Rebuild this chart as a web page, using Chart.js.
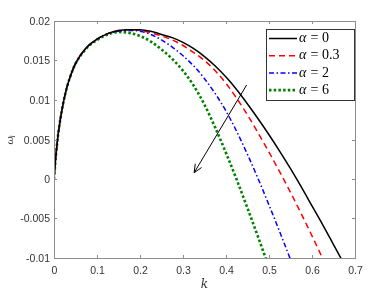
<!DOCTYPE html>
<html lang="en">
<head>
    <meta charset="UTF-8">
    <title>Growth rate vs wavenumber</title>
    <script src="https://cdn.jsdelivr.net/npm/chart.js"></script>
    <style>
        html, body { margin: 0; padding: 0; background: #ffffff; }
        #wrap { position: relative; width: 392px; height: 294px; }
    </style>
</head>
<body>
    <div id="wrap"><canvas id="growthChart" width="392" height="294"></canvas></div>

    <script>
        // --- DATA ---
        const kValues = [0, 0.005, 0.01, 0.02, 0.03, 0.04, 0.05, 0.075, 0.1, 0.125, 0.15, 0.175,
                         0.2, 0.225, 0.25, 0.275, 0.3, 0.325, 0.35, 0.375, 0.4, 0.425, 0.45,
                         0.475, 0.5, 0.525, 0.55, 0.575, 0.6, 0.625, 0.65, 0.675];

        const omegaAlpha0 = [0, 0.0033, 0.0058, 0.0092, 0.0116, 0.0133, 0.0146, 0.0166, 0.0177, 0.0184, 0.0188, 0.0189,
                             0.0189, 0.0187, 0.0183, 0.0179, 0.0173, 0.0165, 0.0155, 0.0143, 0.0129, 0.0113, 0.0095,
                             0.0076, 0.0056, 0.0035, 0.0013, -0.0010, -0.0034, -0.0058, -0.0083, -0.0108];
        const omegaAlpha03 = [0, 0.0033, 0.0058, 0.0092, 0.0116, 0.0133, 0.0146, 0.0166, 0.0177, 0.0184, 0.0188, 0.0189,
                              0.0188, 0.0185, 0.0181, 0.0176, 0.0169, 0.0160, 0.0150, 0.0137, 0.0121, 0.0102, 0.0081,
                              0.0058, 0.0034, 0.0009, -0.0017, -0.0044, -0.0072, -0.0101, -0.0131, null];
        const omegaAlpha2 = [0, 0.0033, 0.0058, 0.0092, 0.0116, 0.0133, 0.0146, 0.0166, 0.0177, 0.0184, 0.0187, 0.0188,
                             0.0187, 0.0183, 0.0176, 0.0167, 0.0156, 0.0143, 0.0127, 0.0108, 0.0086, 0.0060, 0.0031,
                             0.0000, -0.0033, -0.0067, -0.0102, -0.0138, null, null, null, null];
        const omegaAlpha6 = [0, 0.0033, 0.0058, 0.0092, 0.0116, 0.0133, 0.0146, 0.0165, 0.0176, 0.0183, 0.0186, 0.0185,
                             0.0181, 0.0174, 0.0164, 0.0152, 0.0137, 0.0118, 0.0094, 0.0065, 0.0033, -0.0001, -0.0037,
                             -0.0074, -0.0112, null, null, null, null, null, null, null];

        const seriesLabels = ['0', '0.3', '2', '6'];
        const xTicks = [0, 0.1, 0.2, 0.3, 0.4, 0.5, 0.6, 0.7];
        const yTicks = [-0.01, -0.005, 0, 0.005, 0.01, 0.015, 0.02];

        // arrow showing increasing alpha, in data units
        const arrowFrom = { k: 0.448, w: 0.0119 };
        const arrowTo = { k: 0.326, w: 0.0008 };

        // --- STYLES ---
        const axisColor = '#8c8c8c';
        const textColor = '#333333';
        const tickFont = '10.5px "Liberation Sans", Arial, sans-serif';

        const lineStyles = [
            { color: '#000000', width: 1.5, dash: [] },
            { color: '#ff0000', width: 1.5, dash: [6, 4] },
            { color: '#0000ff', width: 1.5, dash: [5, 2.5, 1.5, 2.5] },
            { color: '#008000', width: 2.6, dash: [2.5, 2.2] }
        ];

        const allSeries = [omegaAlpha0, omegaAlpha03, omegaAlpha2, omegaAlpha6];

        const datasets = allSeries.map((values, i) => ({
            label: 'α = ' + seriesLabels[i],
            data: kValues.map((k, j) => ({ x: k, y: values[j] })).filter(p => p.y !== null),
            borderColor: lineStyles[i].color,
            borderWidth: lineStyles[i].width,
            borderDash: lineStyles[i].dash,
            pointRadius: 0,
            fill: false,
            cubicInterpolationMode: 'monotone',
            borderCapStyle: 'butt'
        }));

        // draws box, inward ticks, tick labels, axis titles, arrow and legend
        const matlabLook = {
            id: 'matlabLook',
            afterDatasetsDraw(chart) {
                const { ctx, chartArea: a, scales } = chart;
                const xs = scales.x, ys = scales.y;
                ctx.save();

                // arrow
                const x1 = xs.getPixelForValue(arrowFrom.k), y1 = ys.getPixelForValue(arrowFrom.w);
                const x2 = xs.getPixelForValue(arrowTo.k), y2 = ys.getPixelForValue(arrowTo.w);
                ctx.strokeStyle = '#000';
                ctx.lineWidth = 1;
                ctx.setLineDash([]);
                ctx.beginPath();
                ctx.moveTo(x1, y1);
                ctx.lineTo(x2, y2);
                ctx.stroke();
                const ang = Math.atan2(y2 - y1, x2 - x1);
                const hl = 9, hw = 0.42;
                ctx.beginPath();
                ctx.moveTo(x2 - hl * Math.cos(ang - hw), y2 - hl * Math.sin(ang - hw));
                ctx.lineTo(x2, y2);
                ctx.lineTo(x2 - hl * Math.cos(ang + hw), y2 - hl * Math.sin(ang + hw));
                ctx.stroke();

                // box
                ctx.strokeStyle = axisColor;
                ctx.lineWidth = 1;
                ctx.strokeRect(Math.round(a.left) + 0.5, Math.round(a.top) + 0.5,
                    Math.round(a.right - a.left), Math.round(a.bottom - a.top));

                // ticks + labels
                ctx.fillStyle = textColor;
                ctx.font = tickFont;
                ctx.textAlign = 'center';
                ctx.textBaseline = 'top';
                xTicks.forEach(t => {
                    const px = Math.round(xs.getPixelForValue(t)) + 0.5;
                    ctx.beginPath();
                    ctx.moveTo(px, a.bottom); ctx.lineTo(px, a.bottom - 3);
                    ctx.moveTo(px, a.top); ctx.lineTo(px, a.top + 3);
                    ctx.stroke();
                    ctx.fillText(String(t), px, a.bottom + 8);
                });
                ctx.textAlign = 'right';
                ctx.textBaseline = 'middle';
                yTicks.forEach(t => {
                    const py = Math.round(ys.getPixelForValue(t)) + 0.5;
                    ctx.beginPath();
                    ctx.moveTo(a.left, py); ctx.lineTo(a.left + 3, py);
                    ctx.moveTo(a.right, py); ctx.lineTo(a.right - 3, py);
                    ctx.stroke();
                    ctx.fillText(String(t), a.left - 4, py + 1);
                });

                // axis titles
                ctx.fillStyle = textColor;
                ctx.font = 'italic 12px "DejaVu Serif", "Liberation Serif", serif';
                ctx.textAlign = 'center';
                ctx.fillText('k', (a.left + a.right) / 2, 285);
                ctx.save();
                ctx.translate(10, (a.top + a.bottom) / 2 + 1);
                ctx.rotate(-Math.PI / 2);
                ctx.font = 'italic 10px "DejaVu Serif", "Liberation Serif", serif';
                ctx.textAlign = 'left';
                ctx.fillText('ω', -4, 0);
                ctx.font = 'italic 7px "DejaVu Serif", "Liberation Serif", serif';
                ctx.fillText('i', 3, 3);
                ctx.restore();

                // legend
                const lx = 266, ly = 29, lw = 88, lh = 71;
                ctx.fillStyle = '#ffffff';
                ctx.fillRect(lx, ly, lw, lh);
                ctx.strokeStyle = '#333333';
                ctx.lineWidth = 1;
                ctx.strokeRect(lx + 0.5, ly + 0.5, lw, lh);
                datasets.forEach((ds, i) => {
                    const yy = 38.5 + i * 17.2;
                    ctx.strokeStyle = ds.borderColor;
                    ctx.lineWidth = ds.borderWidth;
                    ctx.setLineDash(ds.borderDash);
                    ctx.beginPath();
                    ctx.moveTo(269, yy); ctx.lineTo(297, yy);
                    ctx.stroke();
                    ctx.setLineDash([]);
                    ctx.fillStyle = '#000';
                    ctx.textAlign = 'left';
                    ctx.textBaseline = 'middle';
                    ctx.font = 'italic 14px "Liberation Serif", "DejaVu Serif", serif';
                    ctx.fillText('α', 299, yy);
                    ctx.font = '14px "Liberation Serif", "DejaVu Serif", serif';
                    ctx.fillText(' = ' + seriesLabels[i], 307, yy);
                });
                ctx.restore();
            }
        };

        new Chart(document.getElementById('growthChart'), {
            type: 'line',
            data: { datasets: datasets },
            options: {
                responsive: false,
                animation: false,
                layout: { padding: { left: 0, right: 37, top: 21, bottom: 0 } },
                plugins: { legend: { display: false }, tooltip: { enabled: false } },
                scales: {
                    x: {
                        type: 'linear', min: 0, max: 0.7,
                        grid: { display: false, drawTicks: false },
                        border: { display: false },
                        ticks: { display: false },
                        afterFit: s => { s.height = 36; }
                    },
                    y: {
                        type: 'linear', min: -0.01, max: 0.02,
                        grid: { display: false, drawTicks: false },
                        border: { display: false },
                        ticks: { display: false },
                        afterFit: s => { s.width = 54; }
                    }
                }
            },
            plugins: [matlabLook]
        });
    </script>
</body>
</html>
